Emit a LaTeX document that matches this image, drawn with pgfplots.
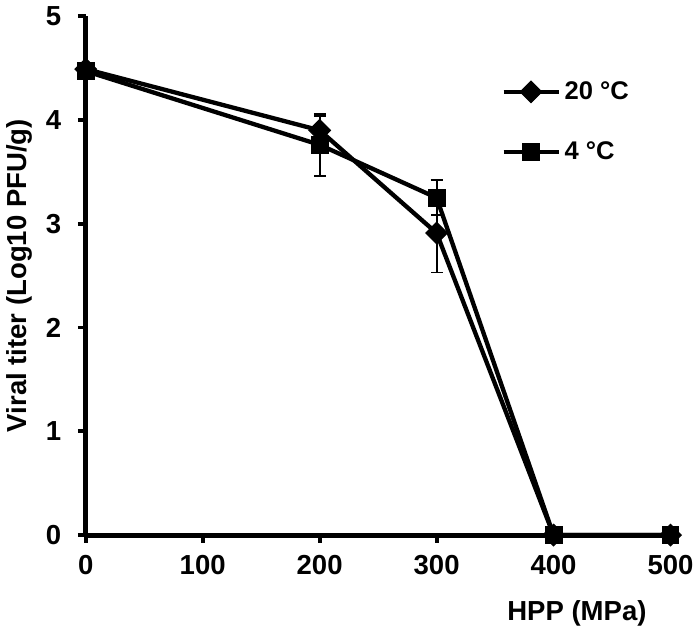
\documentclass[border=0pt]{standalone}
\usepackage{fontspec}
\setmainfont{Liberation Sans}
\usepackage{pgfplots}
\pgfplotsset{compat=1.18}

\begin{document}
\begin{tikzpicture}
\begin{axis}[
  scale only axis,
  width=297.5pt, height=264pt,
  xmin=0, xmax=500, ymin=0, ymax=5,
  xtick={0,100,200,300,400,500},
  ytick={0,1,2,3,4,5},
  axis lines=left,
  axis line style={-, line width=2.5pt},
  tick align=outside,
  major tick length=4pt,
  tick style={line width=2pt, black},
  /pgf/number format/assume math mode=true,
  ticklabel style={font=\bfseries\fontsize{14}{16}\selectfont},
  xticklabel style={yshift=-3pt},
  yticklabel style={xshift=-5pt},
  xlabel={HPP (MPa)},
  ylabel={Viral titer (Log10 PFU/g)},
  label style={font=\bfseries\fontsize{14}{16}\selectfont},
  xlabel style={at={(axis description cs:0.84,0)}, anchor=north, yshift=-30pt},
  clip=false,
  legend style={at={(axis description cs:0.70,0.89)}, anchor=north west,
    draw=none, fill=none, row sep=16pt,
    font=\bfseries\fontsize{13}{15}\selectfont},
  legend cell align=left,
  legend image code/.code={
    \draw[#1, mark repeat=2, mark phase=2] plot coordinates {(0pt,0pt)(14pt,0pt)(28pt,0pt)};
  },
]
\addplot[black, line width=2.2pt, mark=square*, mark size=3.9pt,
  mark options={rotate=45, line width=0.5pt, solid},
  error bars/.cd, y dir=both, y explicit,
  error bar style={line width=1pt, black},
  error mark options={rotate=90, mark size=3pt, line width=1pt, black}]
  coordinates {
  (0,4.49) +- (0,0)
  (200,3.90) +- (0,0.14)
  (300,2.91) +- (0,0.38)
  (400,0) +- (0,0)
  (500,0) +- (0,0)
};
\addlegendentry{20 °C}
\addplot[black, line width=2.2pt, mark=square*, mark size=4.3pt,
  mark options={line width=0.5pt, solid},
  error bars/.cd, y dir=both, y explicit,
  error bar style={line width=1pt, black},
  error mark options={rotate=90, mark size=3pt, line width=1pt, black}]
  coordinates {
  (0,4.47) +- (0,0)
  (200,3.76) +- (0,0.30)
  (300,3.25) +- (0,0.17)
  (400,0) +- (0,0)
  (500,0) +- (0,0)
};
\addlegendentry{4 °C}
\end{axis}
\end{tikzpicture}
\end{document}
